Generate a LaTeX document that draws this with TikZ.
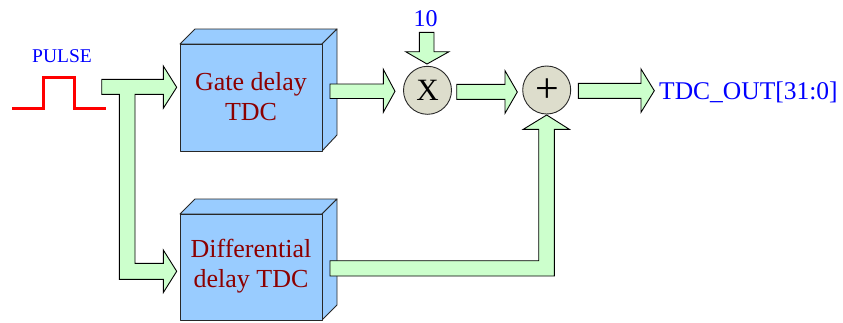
\documentclass[tikz,border=0pt]{standalone}
\usepackage{fontspec}
\setmainfont{Liberation Serif}
\definecolor{boxblue}{RGB}{153,204,255}
\definecolor{arrgreen}{RGB}{204,255,204}
\definecolor{opfill}{RGB}{221,221,204}
\definecolor{darkred}{RGB}{140,0,0}
\definecolor{edge}{RGB}{40,40,40}
\begin{document}
\begin{tikzpicture}[x=1pt,y=-1pt,
  boxface/.style={fill=boxblue,draw=edge,line width=0.9pt,line join=round},
  blockarrow/.style={fill=arrgreen,draw=black,line width=0.9pt,line join=miter},
  opnode/.style={circle,fill=opfill,draw=edge,line width=0.9pt,minimum size=48pt,inner sep=0pt,font=\fontsize{31}{31}\selectfont},
  boxtext/.style={align=center,text=darkred,font=\fontsize{26}{30.5}\selectfont,inner sep=0pt},
  bluetext/.style={text=blue,inner sep=0pt,anchor=base}]
\useasboundingbox (0,0) rectangle (843,322);

% Gate delay TDC block
\draw[boxface] (180,44) -- (195,29) -- (337,29) -- (322,44) -- cycle;
\draw[boxface] (322,44) -- (337,29) -- (337,135) -- (322,151) -- cycle;
\node[boxface,rectangle,minimum width=142pt,minimum height=107pt,inner sep=0pt] (gatebox) at (251,97.5) {};
\node[boxtext] (gate) at (251,96.5) {Gate delay\\TDC};

% Differential delay TDC block
\draw[boxface] (180,214) -- (195,199) -- (337,199) -- (322,214) -- cycle;
\draw[boxface] (322,214) -- (337,199) -- (337,305) -- (322,320) -- cycle;
\node[boxface,rectangle,minimum width=142pt,minimum height=106pt,inner sep=0pt] (diffbox) at (251,267) {};
\node[boxtext] (diff) at (251,266) {Differential\\delay TDC};

% operators
\node[opnode] (mul) at (427.5,90.3) {X};
\node[opnode,font=\fontsize{42}{42}\selectfont] (add) at (546.7,90) {};
\node[inner sep=0pt,font=\fontsize{42}{42}\selectfont] (plus) at (547.5,91) {+};

% pulse
\node[bluetext,font=\fontsize{19.5}{19.5}\selectfont] (pulselbl) at (62,62) {PULSE};
\draw[red,line width=3pt,line join=miter,line cap=butt] (12.3,108.3) -- (43.3,108.3) -- (43.3,77.7) -- (74,77.7) -- (74,108.3) -- (106,108.3);

% labels
\node[bluetext,font=\fontsize{24}{24}\selectfont] (ten) at (425.5,26) {10};
\node[bluetext,anchor=base west,font=\fontsize{25.5}{25.5}\selectfont] (out) at (659,99) {TDC\_OUT[31:0]};

% fork arrow from pulse to both TDCs
\draw[blockarrow] (101.7,79.3) -- (163.3,79.3) -- (163.3,66) -- (176.7,87.3) -- (163.3,108.3) -- (163.3,94.3)
  -- (135,94.3) -- (135,263.3) -- (163.3,263.3) -- (163.3,250) -- (176.7,271.3) -- (163.3,292.6) -- (163.3,279.3)
  -- (119.3,279.3) -- (119.3,94.3) -- (101.7,94.3) -- cycle;

% gate -> mul
\draw[blockarrow] (330,84) -- (383.3,84) -- (383.3,69.3) -- (395,91.3) -- (383.3,112.3) -- (383.3,98.5) -- (330,98.5) -- cycle;

% 10 -> mul
\draw[blockarrow] (419.3,32.3) -- (434,32.3) -- (434,51.7) -- (449,51.7) -- (427,64) -- (405.7,51.7) -- (419.3,51.7) -- cycle;

% mul -> add
\draw[blockarrow] (456.7,84.3) -- (505,84.3) -- (505,70.7) -- (517.3,92) -- (505,113.3) -- (505,99.3) -- (456.7,99.3) -- cycle;

% add -> out
\draw[blockarrow] (578.3,83.3) -- (641,83.3) -- (641,69) -- (654.3,90.7) -- (641,112.3) -- (641,98.3) -- (578.3,98.3) -- cycle;

% diff -> add
\draw[blockarrow] (330,260.7) -- (538.7,260.7) -- (538.7,129.3) -- (523.3,129.3) -- (546.7,115) -- (569.3,129.3) -- (554.3,129.3) -- (554.3,276) -- (330,276) -- cycle;
\end{tikzpicture}
\end{document}
